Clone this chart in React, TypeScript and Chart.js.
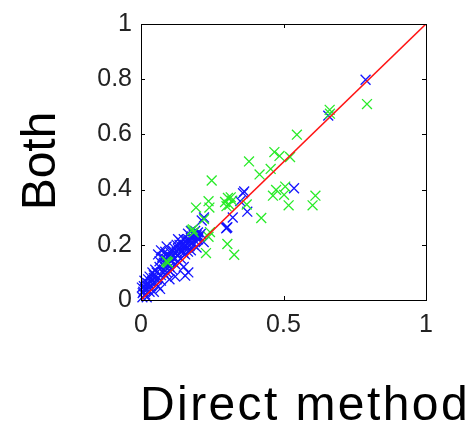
import React, { useEffect, useRef } from "react";
import { Chart, registerables } from "chart.js";

Chart.register(...registerables);

const xTickValues = [0, 0.5, 1];
const yTickValues = [0, 0.2, 0.4, 0.6, 0.8, 1];
const xTitle = "Direct method";
const yTitle = "Both";

const diagonal: [number, number][] = [[0, 0], [1, 1]];

const greenPoints: [number, number][] = [
  [0.793, 0.71], [0.662, 0.689], [0.547, 0.599], [0.468, 0.536], [0.486, 0.522],
  [0.523, 0.518], [0.379, 0.502], [0.455, 0.475], [0.416, 0.455], [0.248, 0.433],
  [0.474, 0.399], [0.506, 0.411], [0.463, 0.378], [0.502, 0.381], [0.612, 0.378],
  [0.602, 0.343], [0.518, 0.343], [0.422, 0.297], [0.237, 0.358], [0.24, 0.335],
  [0.193, 0.335], [0.295, 0.355], [0.305, 0.37], [0.31, 0.345], [0.32, 0.36],
  [0.3, 0.34], [0.315, 0.372], [0.371, 0.346], [0.221, 0.293], [0.237, 0.229],
  [0.303, 0.203], [0.327, 0.164], [0.228, 0.17], [0.178, 0.252], [0.182, 0.256],
  [0.242, 0.246], [0.088, 0.141], [0.095, 0.135], [0.092, 0.138], [0.185, 0.245],
  [0.663, 0.675],
];

const bluePoints: [number, number][] = [
  [0.788, 0.798], [0.657, 0.668], [0.537, 0.405], [0.362, 0.393], [0.358, 0.387],
  [0.348, 0.358], [0.373, 0.32], [0.322, 0.299], [0.301, 0.262], [0.303, 0.264],
  [0.299, 0.26], [0.221, 0.299], [0.213, 0.288], [0.196, 0.229],
  [0.005, 0.01], [0.008, 0.03], [0.01, 0.05], [0.015, 0.02], [0.02, 0.04],
  [0.012, 0.07], [0.025, 0.06], [0.03, 0.03], [0.003, 0.045], [0.02, 0.01],
  [0.035, 0.05], [0.04, 0.07], [0.045, 0.09], [0.03, 0.085], [0.014, 0.04],
  [0.006, 0.025], [0.018, 0.055], [0.028, 0.045], [0.04, 0.1], [0.05, 0.11],
  [0.05, 0.06], [0.055, 0.1], [0.06, 0.08], [0.065, 0.12], [0.07, 0.09],
  [0.075, 0.13], [0.08, 0.11], [0.085, 0.15], [0.09, 0.1], [0.095, 0.13],
  [0.1, 0.12], [0.1, 0.16], [0.105, 0.14], [0.11, 0.18], [0.115, 0.15],
  [0.12, 0.13], [0.12, 0.17], [0.125, 0.2], [0.13, 0.16], [0.135, 0.19],
  [0.14, 0.15], [0.14, 0.21], [0.145, 0.18], [0.15, 0.17], [0.15, 0.22],
  [0.155, 0.2], [0.16, 0.19], [0.165, 0.24], [0.17, 0.21], [0.175, 0.18],
  [0.18, 0.23], [0.185, 0.2], [0.19, 0.25], [0.2, 0.22], [0.195, 0.19],
  [0.21, 0.24], [0.22, 0.21], [0.06, 0.165], [0.07, 0.18], [0.09, 0.194],
  [0.11, 0.11], [0.13, 0.22], [0.078, 0.1], [0.1, 0.075], [0.12, 0.085],
  [0.155, 0.088], [0.166, 0.1], [0.15, 0.12], [0.085, 0.175], [0.16, 0.217],
  [0.067, 0.04], [0.045, 0.03], [0.06, 0.05],
  [0.065, 0.14], [0.075, 0.155], [0.08, 0.135], [0.09, 0.165], [0.095, 0.155],
  [0.105, 0.17], [0.11, 0.155], [0.115, 0.19], [0.125, 0.175], [0.13, 0.185],
  [0.135, 0.2], [0.14, 0.175], [0.145, 0.2], [0.15, 0.19], [0.16, 0.205],
  [0.165, 0.22], [0.17, 0.195], [0.175, 0.225], [0.18, 0.21], [0.19, 0.215],
  [0.195, 0.235], [0.2, 0.245], [0.205, 0.23], [0.175, 0.25], [0.185, 0.235],
  [0.155, 0.165], [0.165, 0.175], [0.13, 0.14], [0.1, 0.105], [0.085, 0.09],
  [0.07, 0.07], [0.055, 0.075], [0.035, 0.065], [0.025, 0.075], [0.045, 0.08],
];

const toXY = (pts: [number, number][]) => pts.map(([x, y]) => ({ x, y }));

const boxPlugin = {
  id: "boxPlugin",
  afterDatasetsDraw(chart: any) {
    const { ctx, chartArea, scales } = chart;
    const { left, right, top, bottom } = chartArea;
    ctx.save();
    ctx.strokeStyle = "#000";
    ctx.lineWidth = 1;
    ctx.strokeRect(left + 0.5, top + 0.5, right - left, bottom - top);
    const tl = 4;
    ctx.beginPath();
    for (const v of xTickValues) {
      const px = Math.round(scales.x.getPixelForValue(v)) + 0.5;
      ctx.moveTo(px, bottom);
      ctx.lineTo(px, bottom - tl);
      ctx.moveTo(px, top);
      ctx.lineTo(px, top + tl);
    }
    for (const v of yTickValues) {
      const py = Math.round(scales.y.getPixelForValue(v)) + 0.5;
      ctx.moveTo(left, py);
      ctx.lineTo(left + tl, py);
      ctx.moveTo(right, py);
      ctx.lineTo(right - tl, py);
    }
    ctx.stroke();
    ctx.restore();
  },
  afterDraw(chart: any) {
    const { ctx, chartArea } = chart;
    ctx.save();
    ctx.fillStyle = "#000";
    ctx.font = "48px 'Liberation Sans', Arial, sans-serif";
    ctx.textAlign = "left";
    ctx.textBaseline = "alphabetic";
    (ctx as any).letterSpacing = "2.4px";
    ctx.fillText(xTitle, chartArea.left - 1, 420);
    (ctx as any).letterSpacing = "0px";
    ctx.translate(55, 161);
    ctx.rotate(-Math.PI / 2);
    ctx.textAlign = "center";
    ctx.fillText(yTitle, 0, 0);
    ctx.restore();
  },
};

export default function App() {
  const ref = useRef<HTMLCanvasElement | null>(null);
  useEffect(() => {
    if (!ref.current) return;
    const tickFont = { family: "'Liberation Sans', Arial, sans-serif", size: 25 };
    const fmt = (v: any) => String(Math.round(Number(v) * 10) / 10);
    const chart = new Chart(ref.current, {
      type: "scatter",
      data: {
        datasets: [
          {
            type: "line",
            data: toXY(diagonal),
            borderColor: "rgb(255,20,20)",
            borderWidth: 1.6,
            pointRadius: 0,
            showLine: true,
            fill: false,
          } as any,
          {
            data: toXY(greenPoints),
            pointStyle: "crossRot",
            pointRadius: 7,
            borderColor: "rgb(40,235,40)",
            backgroundColor: "rgb(40,235,40)",
            pointBorderWidth: 1.3,
            clip: false,
          } as any,
          {
            data: toXY(bluePoints),
            pointStyle: "crossRot",
            pointRadius: 7,
            borderColor: "rgb(20,20,255)",
            backgroundColor: "rgb(20,20,255)",
            pointBorderWidth: 1.3,
            clip: false,
          } as any,
        ],
      },
      options: {
        animation: false,
        responsive: true,
        maintainAspectRatio: false,
        layout: { padding: { left: 0, top: 16, right: 42, bottom: 0 } },
        plugins: { legend: { display: false }, tooltip: { enabled: false } },
        scales: {
          x: {
            type: "linear",
            min: 0,
            max: 1,
            afterBuildTicks: (s: any) => {
              s.ticks = xTickValues.map((v) => ({ value: v }));
            },
            afterFit: (s: any) => {
              s.height = 127;
            },
            ticks: { font: tickFont, color: "#222", padding: 10, maxRotation: 0, callback: fmt },
            grid: { display: false, drawTicks: false },
            border: { display: false },
          },
          y: {
            type: "linear",
            min: 0,
            max: 1,
            afterBuildTicks: (s: any) => {
              s.ticks = yTickValues.map((v) => ({ value: v }));
            },
            afterFit: (s: any) => {
              s.width = 141;
            },
            ticks: { font: tickFont, color: "#222", padding: 9, callback: fmt },
            grid: { display: false, drawTicks: false },
            border: { display: false },
          },
        },
      },
      plugins: [boxPlugin],
    } as any);
    return () => chart.destroy();
  }, []);
  return (
    <div style={{ position: "absolute", left: 0, top: 0, width: 468, height: 427, background: "#fff" }}>
      <canvas ref={ref} />
    </div>
  );
}
